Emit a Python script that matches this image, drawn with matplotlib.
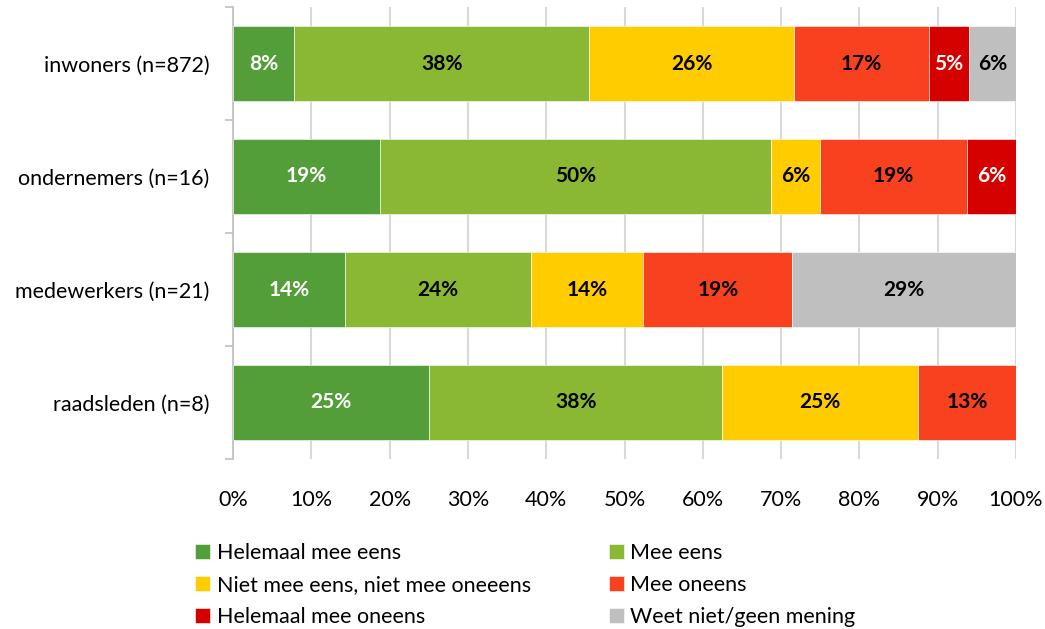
import matplotlib.pyplot as plt
import numpy as np

plt.rcParams['font.family'] = ['Lato', 'DejaVu Sans']

groups = ['inwoners (n=872)', 'ondernemers (n=16)', 'medewerkers (n=21)', 'raadsleden (n=8)']
categories = ['Helemaal mee eens', 'Mee eens', 'Niet mee eens, niet mee oneeens',
              'Mee oneens', 'Helemaal mee oneens', 'Weet niet/geen mening']
colors = ['#549E39', '#8AB833', '#FFCC00', '#F8411F', '#D50000', '#BFBFBF']
label_colors = ['white', 'black', 'black', 'black', 'white', 'black']

# shares in percent, one list per category (order of groups)
helemaal_eens = [7.8, 18.75, 14.29, 25.0]
eens = [37.73, 50.0, 23.81, 37.5]
neutraal = [26.15, 6.25, 14.29, 25.0]
oneens = [17.2, 18.75, 19.05, 12.5]
helemaal_oneens = [5.16, 6.25, 0.0, 0.0]
weet_niet = [5.96, 0.0, 28.57, 0.0]
series = [helemaal_eens, eens, neutraal, oneens, helemaal_oneens, weet_niet]

fig = plt.figure(figsize=(10.45, 6.29), dpi=100)
ax = fig.add_axes([233 / 1045, 1 - 459 / 629, 783 / 1045, 452 / 629])

y = np.arange(len(groups))
left = np.zeros(len(groups))
handles = []
for vals, name, col, lcol in zip(series, categories, colors, label_colors):
    vals = np.array(vals)
    bars = ax.barh(y, vals, left=left, height=0.67, color=col, label=name,
                   edgecolor='white', linewidth=0.4, zorder=3)
    handles.append(bars)
    for yi, (l, v) in enumerate(zip(left, vals)):
        if v > 0:
            # round half up like Excel does
            ax.text(l + v / 2, yi, f'{int(v + 0.5)}%', ha='center', va='center',
                    color=lcol, fontsize=15, fontweight='bold', zorder=4)
    left += vals

ax.set_xlim(0, 100)
ax.set_ylim(len(groups) - 0.5, -0.5)
ax.set_xticks(np.arange(0, 101, 10))
ax.set_xticklabels([f'{t}%' for t in range(0, 101, 10)], fontsize=15.5)
ax.tick_params(axis='x', length=0, pad=22)
ax.set_yticks(y)
ax.set_yticklabels(groups, fontsize=15.5)
ax.tick_params(axis='y', which='major', length=0, pad=17)
ax.set_yticks(np.arange(-0.5, len(groups)), minor=True)
ax.tick_params(axis='y', which='minor', length=6, color='#BFBFBF', width=1.2)
ax.grid(axis='x', color='#D9D9D9', linewidth=1.5, zorder=0)
for s in ['top', 'right', 'bottom']:
    ax.spines[s].set_visible(False)
ax.spines['left'].set_color('#BFBFBF')
ax.spines['left'].set_linewidth(1.2)

order = [0, 2, 4, 1, 3, 5]
fig.legend([handles[i] for i in order], [categories[i] for i in order],
           ncol=2, loc='upper left', bbox_to_anchor=(176 / 1045, 1 - 524 / 629),
           frameon=False, fontsize=15.5, handlelength=0.7, handleheight=0.7,
           handletextpad=0.3, columnspacing=3.6, labelspacing=0.56)

fig.savefig('out.png', dpi=100)
